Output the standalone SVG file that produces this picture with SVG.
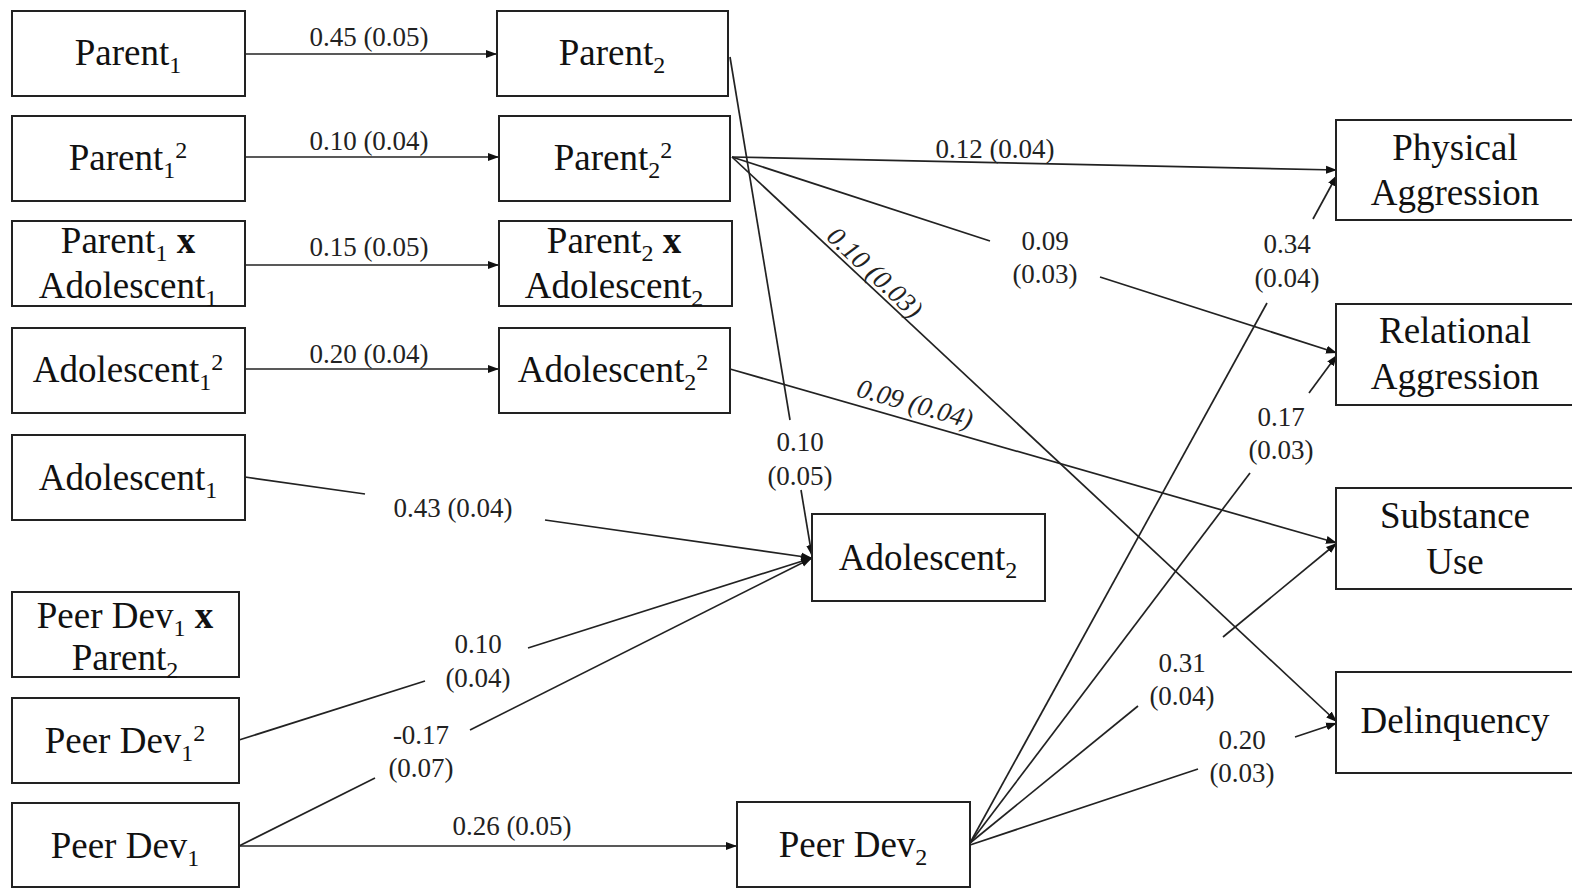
<svg xmlns="http://www.w3.org/2000/svg" width="1572" height="889" viewBox="0 0 1572 889">
<style>
.box{fill:#fff;stroke:#222;stroke-width:2}
.n{font-family:"Liberation Serif","Times New Roman",serif;font-size:37px;fill:#111;text-anchor:middle}
.s{font-size:24px}
.b{font-weight:bold}
.l{font-family:"Liberation Serif","Times New Roman",serif;font-size:27px;fill:#222;text-anchor:middle}
.it{font-style:italic}
.c line{stroke:#222;stroke-width:1.7;fill:none}
</style>
<defs>
<marker id="ah" markerUnits="userSpaceOnUse" markerWidth="12" markerHeight="10" refX="11" refY="5" orient="auto">
<path d="M0,1 L11,5 L0,9 Z" fill="#111"/>
</marker>
</defs>
<rect width="1572" height="889" fill="#fff"/>

<g class="c" id="connectors">
<line x1="245" y1="54" x2="497" y2="54" marker-end="url(#ah)"/>
<line x1="245" y1="157" x2="499" y2="157" marker-end="url(#ah)"/>
<line x1="245" y1="265" x2="499" y2="265" marker-end="url(#ah)"/>
<line x1="245" y1="369" x2="499" y2="369" marker-end="url(#ah)"/>
<line x1="245" y1="477" x2="365" y2="494"/>
<line x1="545" y1="520" x2="812" y2="558" marker-end="url(#ah)"/>
<line x1="730" y1="57" x2="790" y2="420"/>
<line x1="801" y1="490" x2="812" y2="556" marker-end="url(#ah)"/>
<line x1="239" y1="740" x2="425" y2="681"/>
<line x1="528" y1="648" x2="812" y2="558" marker-end="url(#ah)"/>
<line x1="239" y1="846" x2="375" y2="778"/>
<line x1="470" y1="730" x2="812" y2="558" marker-end="url(#ah)"/>
<line x1="239" y1="846" x2="737" y2="846" marker-end="url(#ah)"/>
<line x1="732" y1="157" x2="1337" y2="170" marker-end="url(#ah)"/>
<line x1="732" y1="157" x2="990" y2="241"/>
<line x1="1100" y1="277" x2="1337" y2="353" marker-end="url(#ah)"/>
<line x1="732" y1="157" x2="1337" y2="722" marker-end="url(#ah)"/>
<line x1="730" y1="369" x2="1337" y2="543" marker-end="url(#ah)"/>
<line x1="970" y1="843" x2="1267" y2="303"/>
<line x1="1313" y1="219" x2="1337" y2="175" marker-end="url(#ah)"/>
<line x1="970" y1="843" x2="1250" y2="473"/>
<line x1="1309" y1="393" x2="1337" y2="355" marker-end="url(#ah)"/>
<line x1="970" y1="843" x2="1138" y2="706"/>
<line x1="1223" y1="637" x2="1337" y2="543" marker-end="url(#ah)"/>
<line x1="970" y1="845" x2="1198" y2="769"/>
<line x1="1295" y1="737" x2="1337" y2="723" marker-end="url(#ah)"/>
</g>

<g id="edge-labels">
<text class="l" x="369" y="46">0.45 (0.05)</text>
<text class="l" x="369" y="150">0.10 (0.04)</text>
<text class="l" x="369" y="256">0.15 (0.05)</text>
<text class="l" x="369" y="363">0.20 (0.04)</text>
<text class="l" x="453" y="517">0.43 (0.04)</text>
<text class="l" x="800" y="451">0.10</text>
<text class="l" x="800" y="485">(0.05)</text>
<text class="l" x="478" y="653">0.10</text>
<text class="l" x="478" y="687">(0.04)</text>
<text class="l" x="421" y="744">-0.17</text>
<text class="l" x="421" y="777">(0.07)</text>
<text class="l" x="512" y="835">0.26 (0.05)</text>
<text class="l" x="995" y="158">0.12 (0.04)</text>
<text class="l" x="1045" y="250">0.09</text>
<text class="l" x="1045" y="283">(0.03)</text>
<text class="l" x="1287" y="253">0.34</text>
<text class="l" x="1287" y="287">(0.04)</text>
<text class="l" x="1281" y="426">0.17</text>
<text class="l" x="1281" y="459">(0.03)</text>
<text class="l" x="1182" y="672">0.31</text>
<text class="l" x="1182" y="705">(0.04)</text>
<text class="l" x="1242" y="749">0.20</text>
<text class="l" x="1242" y="782">(0.03)</text>
<text class="l it" transform="translate(866,282) rotate(43.1)" x="0" y="-4">0.10 (0.03)</text>
<text class="l it" transform="translate(910,421) rotate(16)" x="0" y="-9">0.09 (0.04)</text>
</g>

<g id="parent1"><rect class="box" x="12" y="11" width="233" height="85"/><text class="n" x="128" y="65">Parent<tspan class="s" dy="8">1</tspan></text></g>
<g id="parent1sq"><rect class="box" x="12" y="116" width="233" height="85"/><text class="n" x="128" y="170">Parent<tspan class="s" dy="8">1</tspan><tspan class="s" dy="-20">2</tspan></text></g>
<g id="parent1xadol1"><rect class="box" x="12" y="221" width="233" height="85"/><text class="n" x="128" y="253">Parent<tspan class="s" dy="8">1</tspan><tspan dy="-8"> </tspan><tspan class="b">x</tspan></text><text class="n" x="128" y="298">Adolescent<tspan class="s" dy="8">1</tspan></text></g>
<g id="adol1sq"><rect class="box" x="12" y="328" width="233" height="85"/><text class="n" x="128" y="382">Adolescent<tspan class="s" dy="8">1</tspan><tspan class="s" dy="-20">2</tspan></text></g>
<g id="adol1"><rect class="box" x="12" y="435" width="233" height="85"/><text class="n" x="128" y="490">Adolescent<tspan class="s" dy="8">1</tspan></text></g>
<g id="peerdev1xparent2"><rect class="box" x="12" y="592" width="227" height="85"/><text class="n" x="125" y="628">Peer Dev<tspan class="s" dy="8">1</tspan><tspan dy="-8"> </tspan><tspan class="b">x</tspan></text><text class="n" x="125" y="670">Parent<tspan class="s" dy="8">2</tspan></text></g>
<g id="peerdev1sq"><rect class="box" x="12" y="698" width="227" height="85"/><text class="n" x="125" y="753">Peer Dev<tspan class="s" dy="8">1</tspan><tspan class="s" dy="-20">2</tspan></text></g>
<g id="peerdev1"><rect class="box" x="12" y="803" width="227" height="84"/><text class="n" x="125" y="858">Peer Dev<tspan class="s" dy="8">1</tspan></text></g>

<g id="parent2"><rect class="box" x="497" y="11" width="231" height="85"/><text class="n" x="612" y="65">Parent<tspan class="s" dy="8">2</tspan></text></g>
<g id="parent2sq"><rect class="box" x="499" y="116" width="231" height="85"/><text class="n" x="613" y="170">Parent<tspan class="s" dy="8">2</tspan><tspan class="s" dy="-20">2</tspan></text></g>
<g id="parent2xadol2"><rect class="box" x="499" y="221" width="233" height="85"/><text class="n" x="614" y="253">Parent<tspan class="s" dy="8">2</tspan><tspan dy="-8"> </tspan><tspan class="b">x</tspan></text><text class="n" x="614" y="298">Adolescent<tspan class="s" dy="8">2</tspan></text></g>
<g id="adol2sq"><rect class="box" x="499" y="328" width="231" height="85"/><text class="n" x="613" y="382">Adolescent<tspan class="s" dy="8">2</tspan><tspan class="s" dy="-20">2</tspan></text></g>
<g id="adol2"><rect class="box" x="812" y="514" width="233" height="87"/><text class="n" x="928" y="570">Adolescent<tspan class="s" dy="8">2</tspan></text></g>
<g id="peerdev2"><rect class="box" x="737" y="802" width="233" height="85"/><text class="n" x="853" y="857">Peer Dev<tspan class="s" dy="8">2</tspan></text></g>

<g id="physical"><rect class="box" x="1336" y="120" width="250" height="100"/><text class="n" x="1455" y="160">Physical</text><text class="n" x="1455" y="205">Aggression</text></g>
<g id="relational"><rect class="box" x="1336" y="304" width="250" height="101"/><text class="n" x="1455" y="343">Relational</text><text class="n" x="1455" y="389">Aggression</text></g>
<g id="substance"><rect class="box" x="1336" y="488" width="250" height="101"/><text class="n" x="1455" y="528">Substance</text><text class="n" x="1455" y="574">Use</text></g>
<g id="delinquency"><rect class="box" x="1336" y="672" width="250" height="101"/><text class="n" x="1455" y="733">Delinquency</text></g>
</svg>
